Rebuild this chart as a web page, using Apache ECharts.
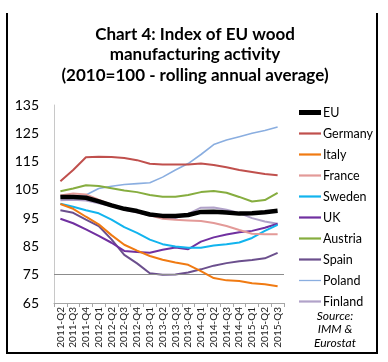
<!DOCTYPE html>
<html><head><meta charset="utf-8">
<script src="https://cdn.jsdelivr.net/npm/echarts@6/dist/echarts.min.js"></script>
<style>html,body{margin:0;padding:0;background:#fff}#c{width:388px;height:362px}</style>
</head><body><div id="c"></div>
<script>
const categories = ['2011-Q2','2011-Q3','2011-Q4','2012-Q1','2012-Q2','2012-Q3','2012-Q4','2013-Q1','2013-Q2','2013-Q3','2013-Q4','2014-Q1','2014-Q2','2014-Q3','2014-Q4','2015-Q1','2015-Q2','2015-Q3'];
const yTicks = [65,75,85,95,105,115,125,135];
const EU      = [102.5,102.5,102.2,100.9,99.5,98.3,97.5,96.3,95.8,95.8,96.1,97.2,97.3,97.0,96.6,96.7,97.1,97.6];
const Germany = [108.0,112.0,116.5,116.7,116.6,116.3,115.5,114.2,114.0,114.0,114.0,114.3,113.8,113.0,112.0,111.3,110.6,110.2];
const Italy   = [100.0,98.3,95.5,92.8,89.0,85.6,83.5,81.6,80.3,79.3,78.5,76.3,73.8,73.0,72.8,72.0,71.6,70.9];
const France  = [103.0,103.7,103.4,101.5,99.8,98.3,97.2,96.0,94.8,94.4,94.2,94.0,93.3,92.2,90.8,89.5,89.3,89.3];
const Sweden  = [100.1,99.0,97.8,96.7,94.5,91.8,89.8,87.4,85.8,85.0,84.5,84.5,85.3,85.8,86.4,88.0,90.5,92.6];
const UK      = [94.8,93.2,91.0,88.7,86.3,83.4,83.0,82.8,83.8,84.6,84.0,86.7,88.2,89.2,90.0,90.5,91.6,93.0];
const Austria = [104.5,105.5,106.6,106.4,105.6,104.8,104.2,103.2,102.6,102.6,103.2,104.2,104.6,104.0,102.5,100.9,101.4,103.9];
const Spain   = [97.8,96.9,94.5,92.2,87.5,82.0,79.0,75.5,75.0,75.1,75.8,76.9,78.2,79.1,79.8,80.2,80.8,82.7];
const Poland  = [102.7,102.9,103.2,105.5,106.3,106.9,107.2,107.5,109.5,112.0,114.3,117.5,121.0,122.6,123.8,125.0,126.0,127.2];
const Finland = [101.3,101.5,101.2,100.3,99.3,98.0,97.0,96.0,95.2,95.0,96.5,98.7,98.8,98.0,96.8,95.0,93.8,93.0];
const refLine = 75;

const seriesDefs = [
  ['EU', EU, '#000000', 4.5],
  ['Germany', Germany, '#c0504d', 2],
  ['Italy', Italy, '#f07a12', 2],
  ['France', France, '#e39a98', 2],
  ['Sweden', Sweden, '#12b4ee', 2],
  ['UK', UK, '#7030a0', 2],
  ['Austria', Austria, '#86ad3f', 2],
  ['Spain', Spain, '#6b4f8d', 2],
  ['Poland', Poland, '#8aaee0', 1.6],
  ['Finland', Finland, '#b1a2c9', 2]
];

const chart = echarts.init(document.getElementById('c'));
const series = seriesDefs.map((d, i) => ({
  name: d[0], type: 'line', data: d[1], symbol: 'none', showSymbol: false, smooth: false,
  z: i === 0 ? 20 : 10 - i,
  lineStyle: { color: d[2], width: d[3] }, itemStyle: { color: d[2] },
  markLine: i === 0 ? { silent: true, symbol: 'none', label: { show: false },
    lineStyle: { color: '#8c8c8c', width: 1, type: 'solid' }, data: [{ yAxis: refLine }] } : undefined
}));

const legendData = seriesDefs.map((d, i) => ({
  name: d[0],
  icon: i === 0 ? 'path://M0,0H22V5H0Z' : (d[0] === 'Poland' ? 'path://M0,0H22V1.3H0Z' : 'path://M0,0H22V2.2H0Z'),
  itemStyle: { color: d[2] }
}));

chart.setOption({
  animation: false,
  textStyle: { fontFamily: 'Lato' },
  title: {
    text: 'Chart 4: Index of EU wood\nmanufacturing activity\n(2010=100 - rolling annual average)',
    left: 190, textAlign: 'center', top: 19,
    textStyle: { fontFamily: 'Lato', fontWeight: 'bold', fontSize: 17, lineHeight: 20.5, color: '#000' }
  },
  legend: {
    orient: 'vertical', left: 294, top: 101, itemWidth: 22, itemHeight: 14, itemGap: 8,
    symbolKeepAspect: true,
    textStyle: { fontFamily: 'Lato', fontSize: 12.5, color: '#000', padding: [0, 0, 0, -3] },
    data: legendData
  },
  grid: { left: 54, right: 104, top: 105, bottom: 59 },
  xAxis: {
    type: 'category', data: categories, boundaryGap: true,
    axisLine: { lineStyle: { color: '#a6a6a6' } },
    axisTick: { show: true, length: 4, lineStyle: { color: '#a6a6a6' } },
    axisLabel: { rotate: 90, interval: 0, fontSize: 10, color: '#222', margin: 4, fontFamily: 'Lato' }
  },
  yAxis: {
    type: 'value', min: yTicks[0], max: yTicks[yTicks.length - 1], interval: 10,
    splitLine: { show: false },
    axisLine: { show: true, lineStyle: { color: '#c8c8c8' } },
    axisTick: { show: false },
    axisLabel: { fontSize: 14, color: '#000', margin: 15, fontFamily: 'Lato' }
  },
  graphic: [
    { type: 'polyline', shape: { points: [[7, 13], [7, 353], [377, 353], [377, 13]] }, style: { stroke: '#000', lineWidth: 2, fill: null } },
    { type: 'text', x: 335, y: 309, style: { text: 'Source:\nIMM &\nEurostat', fontFamily: 'Lato', fontStyle: 'italic', fontSize: 12, lineHeight: 13.5, align: 'center', fill: '#000' } }
  ],
  series: series
});
</script></body></html>
